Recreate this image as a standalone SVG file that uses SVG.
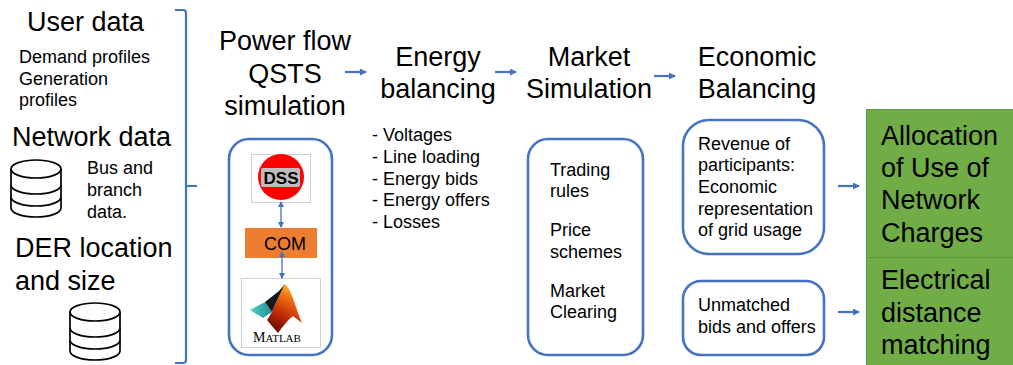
<svg xmlns="http://www.w3.org/2000/svg" width="1013" height="365" viewBox="0 0 1013 365">
<style>
text{font-family:"Liberation Sans",Arial,sans-serif;fill:#000}
.h{font-size:27px}
.hm{font-size:27px;text-anchor:middle}
.s{font-size:18px}
.box{fill:#fff;stroke:#4472c4;stroke-width:2.6}
.ln{fill:none;stroke:#4472c4;stroke-width:2.2}
.th{fill:none;stroke:#4472c4;stroke-width:1.3}
.db{fill:#fff;stroke:#000;stroke-width:1.7}
.fr{fill:#fff;stroke:#d0d0d0;stroke-width:1}
</style>
<defs>
<marker id="a" markerWidth="8" markerHeight="8" refX="6" refY="3.500" orient="auto" markerUnits="userSpaceOnUse"><path d="M0 0L7 3.500L0 7Z" fill="#4472c4"/></marker>
<marker id="b" markerWidth="7" markerHeight="7" refX="5" refY="3" orient="auto-start-reverse" markerUnits="userSpaceOnUse"><path d="M0 0L6 3L0 6Z" fill="#4472c4"/></marker>
<g id="cyl"><path class="db" d="M0 10A25 9 0 0 1 50 10V49A25 9 0 0 1 0 49Z"/><path class="db" fill="none" d="M0 10A25 9 0 0 0 50 10M0 26A25 9 0 0 0 50 26M0 38A25 9 0 0 0 50 38"/></g>
<linearGradient id="mg" x1="0.700" y1="0" x2="0.300" y2="1"><stop offset="0" stop-color="#f9d030"/><stop offset=".3" stop-color="#ee6a10"/><stop offset=".65" stop-color="#c02808"/><stop offset="1" stop-color="#5a0c00"/></linearGradient>
<linearGradient id="mt" x1="0" y1="0" x2="1" y2="0"><stop offset="0" stop-color="#50d0d0"/><stop offset="1" stop-color="#20908f"/></linearGradient>
</defs>
<g id="user-data">
<text class="h" x="27" y="31">User data</text>
<text class="s" x="19" y="63">Demand profiles</text>
<text class="s" x="19" y="85">Generation</text>
<text class="s" x="19" y="106">profiles</text>
</g>
<g id="network-data">
<text class="h" x="12" y="146">Network data</text>
<use href="#cyl" x="11" y="159"/>
<text class="s" x="87" y="174">Bus and</text>
<text class="s" x="87" y="196">branch</text>
<text class="s" x="87" y="218">data.</text>
</g>
<g id="der">
<text class="h" x="15" y="257">DER location</text>
<text class="h" x="15" y="290">and size</text>
<use href="#cyl" x="70" y="302"/>
</g>
<g id="power-flow">
<text class="hm" x="285" y="50">Power flow</text>
<text class="hm" x="285" y="83">QSTS</text>
<text class="hm" x="285" y="115">simulation</text>
</g>
<g id="tools">
<rect class="box" x="229" y="139" width="103" height="216" rx="20"/>
<g id="dss"><rect class="fr" x="251.500" y="154.500" width="59" height="48"/><circle cx="281" cy="177" r="23" fill="#f00"/><rect x="261" y="168" width="39" height="19" rx="2" fill="#bdbdbd"/><text x="281" y="184" font-size="17" font-weight="bold" text-anchor="middle" fill="#111">DSS</text></g>
<g id="com"><rect x="245" y="228" width="72" height="30" fill="#ed7d31"/><text x="285" y="250" font-size="18" text-anchor="middle">COM</text></g>
<g id="matlab"><rect class="fr" x="241.500" y="278.500" width="79" height="69"/>
<path d="M250 310L265 302L272 312L263 318Z" fill="url(#mt)"/>
<path d="M265 302L279 291L285 284L275 305L272 312Z" fill="#101c1c"/>
<path d="M285 284C291 288 295 306 302 323L293 316C288 320 283 326 278 333C274 328 270 324 267 320L272 312L275 305Z" fill="url(#mg)"/>
<text x="253" y="342" style="font-family:'Liberation Serif',serif" font-size="14" fill="#222">M<tspan font-size="11">ATLAB</tspan></text></g>
</g>
<g id="energy-balancing">
<text class="hm" x="438" y="66">Energy</text>
<text class="hm" x="438" y="98">balancing</text>
<text class="s" x="372" y="141">- Voltages</text>
<text class="s" x="372" y="163">- Line loading</text>
<text class="s" x="372" y="185">- Energy bids</text>
<text class="s" x="372" y="206">- Energy offers</text>
<text class="s" x="372" y="228">- Losses</text>
</g>
<g id="market">
<text class="hm" x="589" y="66">Market</text>
<text class="hm" x="589" y="98">Simulation</text>
<rect class="box" x="528" y="139" width="115" height="216" rx="20"/>
<text class="s" x="550" y="176">Trading</text>
<text class="s" x="550" y="197">rules</text>
<text class="s" x="550" y="236">Price</text>
<text class="s" x="550" y="258">schemes</text>
<text class="s" x="550" y="297">Market</text>
<text class="s" x="550" y="318">Clearing</text>
</g>
<g id="economic">
<text class="hm" x="757" y="66">Economic</text>
<text class="hm" x="757" y="98">Balancing</text>
</g>
<g id="revenue">
<rect class="box" x="683" y="120" width="141" height="134" rx="26"/>
<text class="s" x="698" y="150">Revenue of</text>
<text class="s" x="698" y="171">participants:</text>
<text class="s" x="698" y="193">Economic</text>
<text class="s" x="698" y="215">representation</text>
<text class="s" x="698" y="236">of grid usage</text>
</g>
<g id="unmatched">
<rect class="box" x="683" y="281" width="141" height="74" rx="18"/>
<text class="s" x="698" y="311">Unmatched</text>
<text class="s" x="698" y="333">bids and offers</text>
</g>
<g id="allocation">
<rect x="866.500" y="109.500" width="147" height="148" fill="#70ad47" stroke="#5f9a3a"/>
<text class="h" x="881" y="145">Allocation</text>
<text class="h" x="881" y="177">of Use of</text>
<text class="h" x="881" y="209">Network</text>
<text class="h" x="881" y="242">Charges</text>
</g>
<g id="distance">
<rect x="866.500" y="257.500" width="147" height="108" fill="#70ad47" stroke="#5f9a3a"/>
<text class="h" x="881" y="289">Electrical</text>
<text class="h" x="881" y="322">distance</text>
<text class="h" x="881" y="354">matching</text>
</g>
<g id="connectors">
<path class="ln" d="M175 10H183Q186 10 186 13V360Q186 363 183 363H175M186 186H197"/>
<path class="ln" marker-end="url(#a)" d="M345 72H366"/>
<path class="ln" marker-end="url(#a)" d="M495 72H516"/>
<path class="ln" marker-end="url(#a)" d="M654 76H675"/>
<path class="ln" marker-end="url(#a)" d="M838 186H859"/>
<path class="ln" marker-end="url(#a)" d="M838 312H859"/>
<path class="th" marker-start="url(#b)" marker-end="url(#b)" d="M281 202V227"/>
<path class="th" marker-start="url(#b)" marker-end="url(#b)" d="M282 252V278"/>
</g>
</svg>
